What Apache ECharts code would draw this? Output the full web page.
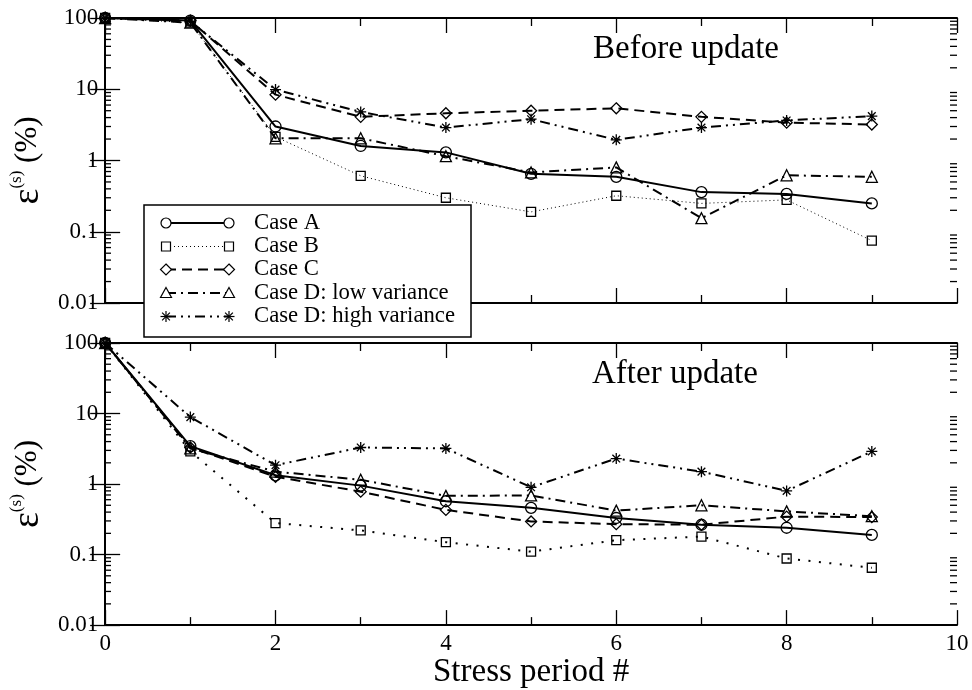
<!DOCTYPE html>
<html>
<head>
<meta charset="utf-8">
<script src="https://cdn.jsdelivr.net/npm/echarts@6/dist/echarts.min.js"></script>
<style>
html,body{margin:0;padding:0;background:#fff;}
#chart{width:972px;height:690px;}
</style>
</head>
<body>
<div id="chart"></div>
<script>
// ---- data ----
const periods = [0, 1, 2, 3, 4, 5, 6, 7, 8, 9];
const caseNames = ['Case A', 'Case B', 'Case C', 'Case D: low variance', 'Case D: high variance'];
const yTickValues = [0.01, 0.1, 1, 10, 100];

const beforeA     = [100, 92, 3.0, 1.6, 1.3, 0.65, 0.59, 0.36, 0.34, 0.25];
const beforeB     = [100, 86, 2.15, 0.61, 0.30, 0.19, 0.32, 0.25, 0.28, 0.075];
const beforeC     = [100, 92, 8.4, 4.1, 4.6, 5.0, 5.4, 4.1, 3.4, 3.2];
const beforeDlow  = [100, 86, 2.05, 2.05, 1.15, 0.68, 0.8, 0.155, 0.62, 0.59];
const beforeDhigh = [100, 90, 9.9, 4.8, 2.9, 3.8, 1.95, 2.9, 3.65, 4.2];

const afterA      = [100, 3.45, 1.33, 0.95, 0.57, 0.46, 0.33, 0.265, 0.24, 0.19];
const afterB      = [100, 2.9, 0.28, 0.22, 0.15, 0.11, 0.16, 0.18, 0.088, 0.065];
const afterC      = [100, 3.3, 1.27, 0.78, 0.43, 0.295, 0.27, 0.265, 0.345, 0.34];
const afterDlow   = [100, 3.2, 1.5, 1.15, 0.68, 0.69, 0.42, 0.5, 0.41, 0.35];
const afterDhigh  = [100, 8.9, 1.85, 3.3, 3.2, 0.9, 2.3, 1.5, 0.8, 2.9];

// ---- styles ----
const FONT = 'Liberation Serif';
const ASTER = 'path://M5,0L5,10M0,5L10,5M1.5,1.5L8.5,8.5M1.5,8.5L8.5,1.5';
const styles = [
  {symbol: 'circle', size: 11, dash: 'solid', width: 2},
  {symbol: 'rect', size: 9, dash: [1, 3], width: 1},
  {symbol: 'diamond', size: 11, dash: [10, 6], width: 2},
  {symbol: 'triangle', size: 11, dash: [10, 5, 2, 5], width: 2},
  {symbol: ASTER, size: 11, dash: [10, 5, 2, 5, 2, 5], width: 2}
];

const chart = echarts.init(document.getElementById('chart'), null, {renderer: 'canvas'});

function pairs(vals) { return periods.map((p, i) => [p, vals[i]]); }

function mkSeries(vals, idx, grid, override) {
  const st = Object.assign({}, styles[idx], override || {});
  return {
    type: 'line',
    name: caseNames[idx],
    xAxisIndex: grid * 2,
    yAxisIndex: grid * 2,
    data: pairs(vals),
    symbol: st.symbol,
    symbolSize: st.size,
    showAllSymbol: true,
    clip: false,
    animation: false,
    lineStyle: {color: '#000', width: st.width, type: st.dash},
    itemStyle: {color: 'rgba(0,0,0,0)', borderColor: '#000', borderWidth: 1.3},
    emphasis: {disabled: true},
    z: 3 + idx
  };
}

const grids = [
  {left: 104, top: 18, width: 853, height: 285},
  {left: 104, top: 343, width: 853, height: 285}
];

function xAxes(grid, showLabels) {
  const base = {
    type: 'value', gridIndex: grid, min: 0, max: 10, interval: 2,
    axisLine: {show: true, lineStyle: {color: '#000', width: 2}},
    axisTick: {show: true, inside: true, length: 15, lineStyle: {color: '#000', width: 1.3}},
    minorTick: {show: true, splitNumber: 2, length: 8, lineStyle: {color: '#000', width: 1.3}},
    splitLine: {show: false},
    minorSplitLine: {show: false}
  };
  return [
    Object.assign({}, base, {
      position: 'bottom',
      axisLabel: {show: showLabels, color: '#000', fontFamily: FONT, fontSize: 23, margin: 7},
      name: showLabels ? 'Stress period #' : '',
      nameLocation: 'middle',
      nameGap: 28,
      nameTextStyle: {color: '#000', fontFamily: FONT, fontSize: 33}
    }),
    Object.assign({}, base, {position: 'top', axisLabel: {show: false}})
  ];
}

function yAxes(grid) {
  const base = {
    type: 'log', logBase: 10, gridIndex: grid, min: 0.01, max: 100,
    axisLine: {show: true, lineStyle: {color: '#000', width: 2}},
    axisTick: {show: true, inside: true, length: 15, lineStyle: {color: '#000', width: 1.3}},
    splitLine: {show: false}
  };
  return [
    Object.assign({}, base, {
      position: 'left',
      axisLabel: {
        color: '#000', fontFamily: FONT, fontSize: 23, margin: 7,
        formatter: v => String(+(+v).toPrecision(2))
      },
      name: '{e|ε}{s|(s)}{p| (%)}',
      nameLocation: 'middle',
      nameGap: 57,
      nameTextStyle: {
        color: '#000', fontFamily: FONT,
        rich: {
          e: {fontFamily: FONT, fontSize: 38, lineHeight: 40, color: '#000'},
          s: {fontFamily: FONT, fontSize: 17, lineHeight: 40, verticalAlign: 'top', color: '#000'},
          p: {fontFamily: FONT, fontSize: 31, lineHeight: 40, color: '#000'}
        }
      }
    }),
    Object.assign({}, base, {position: 'right', axisLabel: {show: false}})
  ];
}

const beforeSets = [beforeA, beforeB, beforeC, beforeDlow, beforeDhigh];
const afterSets = [afterA, afterB, afterC, afterDlow, afterDhigh];

const series = [];
beforeSets.forEach((v, i) => series.push(mkSeries(v, i, 0)));
afterSets.forEach((v, i) => series.push(mkSeries(v, i, 1, i === 1 ? {dash: [2, 8.5], width: 2} : null)));

chart.setOption({
  animation: false,
  backgroundColor: '#fff',
  grid: grids,
  xAxis: xAxes(0, false).concat(xAxes(1, true)),
  yAxis: yAxes(0).concat(yAxes(1)),
  series: series
});

// ---- decorations: log minor ticks, panel titles, legend ----
const g = [];
[0, 1].forEach(grid => {
  const gr = grids[grid];
  const x0 = gr.left, x1 = gr.left + gr.width;
  for (let d = 0; d < yTickValues.length - 1; d++) {
    for (let k = 2; k <= 9; k++) {
      const v = yTickValues[d] * k;
      const py = chart.convertToPixel({yAxisIndex: grid * 2}, v);
      g.push({type: 'line', silent: true, z: 10,
        shape: {x1: x0, y1: py, x2: x0 + 7, y2: py},
        style: {stroke: '#000', lineWidth: 1.3}});
      g.push({type: 'line', silent: true, z: 10,
        shape: {x1: x1 - 7, y1: py, x2: x1, y2: py},
        style: {stroke: '#000', lineWidth: 1.3}});
    }
  }
});

g.push({type: 'text', x: 593, y: 49, z: 20, silent: true,
  style: {text: 'Before update', font: '33px "Liberation Serif"', fill: '#000', verticalAlign: 'middle', align: 'left'}});
g.push({type: 'text', x: 592, y: 374, z: 20, silent: true,
  style: {text: 'After update', font: '33px "Liberation Serif"', fill: '#000', verticalAlign: 'middle', align: 'left'}});

// legend box
g.push({type: 'rect', z: 30, silent: true,
  shape: {x: 144, y: 205, width: 327, height: 132},
  style: {fill: '#fff', stroke: '#000', lineWidth: 1.5}});

function legendSymbol(kind, cx, cy, out) {
  const st = {fill: '#fff', stroke: '#000', lineWidth: 1.2};
  const r = 5;
  if (kind === 0) { out.push({type: 'circle', z: 32, silent: true, shape: {cx, cy, r}, style: st}); return; }
  if (kind === 1) { out.push({type: 'rect', z: 32, silent: true, shape: {x: cx - 4.5, y: cy - 4.5, width: 9, height: 9}, style: st}); return; }
  if (kind === 2) { out.push({type: 'polygon', z: 32, silent: true, shape: {points: [[cx, cy - 5.5], [cx + 5.5, cy], [cx, cy + 5.5], [cx - 5.5, cy]]}, style: st}); return; }
  if (kind === 3) { out.push({type: 'polygon', z: 32, silent: true, shape: {points: [[cx, cy - 5.5], [cx + 5.5, cy + 4.5], [cx - 5.5, cy + 4.5]]}, style: st}); return; }
  const segs = [[0, -5.5, 0, 5.5], [-5.5, 0, 5.5, 0], [-3.9, -3.9, 3.9, 3.9], [-3.9, 3.9, 3.9, -3.9]];
  segs.forEach(s => out.push({type: 'line', z: 32, silent: true,
    shape: {x1: cx + s[0], y1: cy + s[1], x2: cx + s[2], y2: cy + s[3]},
    style: {stroke: '#000', lineWidth: 1.2}}));
}

const legendY = [223, 246.5, 269.5, 293, 316.5];
caseNames.forEach((name, i) => {
  const y = legendY[i];
  const st = styles[i];
  g.push({type: 'line', z: 31, silent: true,
    shape: {x1: 166, y1: y, x2: 229, y2: y},
    style: {stroke: '#000', lineWidth: st.width, lineDash: st.dash === 'solid' ? null : st.dash}});
  legendSymbol(i, 166, y, g);
  legendSymbol(i, 229, y, g);
  g.push({type: 'text', x: 254, y: y, z: 32, silent: true,
    style: {text: name, font: '22.7px "Liberation Serif"', fill: '#000', verticalAlign: 'middle', align: 'left'}});
});

chart.setOption({graphic: g});
</script>
</body>
</html>
